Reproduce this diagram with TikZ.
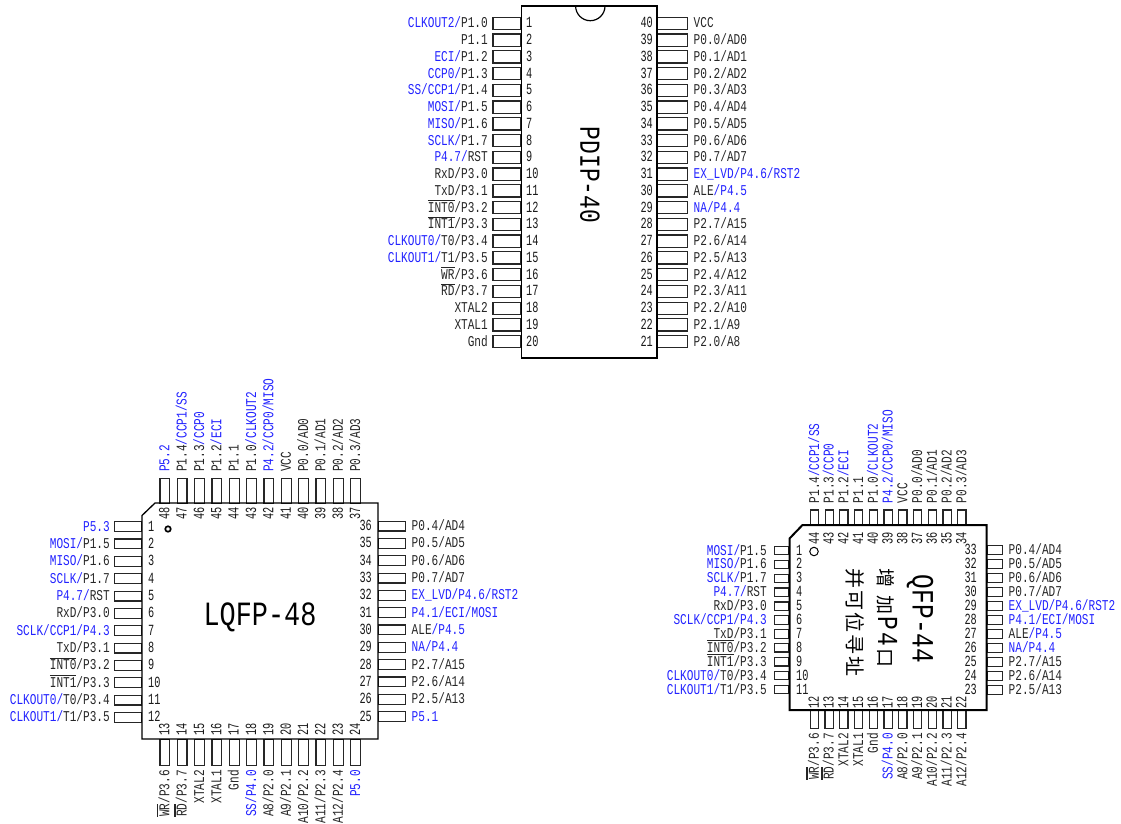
\documentclass[tikz,border=0pt]{standalone}
\usepackage{fontspec}
\setmainfont{Liberation Sans}
\newfontfamily\monoa[FakeStretch=0.79]{Liberation Mono}
\newfontfamily\monol[FakeStretch=0.74]{Liberation Mono}
\newfontfamily\monob[FakeStretch=0.66]{Liberation Mono}
\newfontfamily\cjk{Noto Sans CJK SC}
\definecolor{pinblue}{HTML}{2222FF}
\newcommand\bl[1]{\textcolor{pinblue}{#1}}
\newcommand\ovl[1]{\setbox0\hbox{#1}\rlap{\vrule width\wd0 height 12.4pt depth -11pt}\box0}
\tikzset{
  pinbox/.style={draw=black!85,line width=1.2pt,fill=white},
  chipbody/.style={draw=black,line width=1.2pt},
  lab/.style={inner sep=0pt,text height=10pt,text depth=1pt,text=black!85,font=\monol\fontsize{15}{15}\selectfont},
  num/.style={inner sep=0pt,text height=10pt,text depth=1pt,text=black!90,font=\monob\fontsize{15.5}{15.5}\selectfont},
  title/.style={inner sep=0pt,text=black},
}
% #1 chip, #2 body edge, #3 pin end, #4 half pin height, #5 y0, #6 step, #7 label x, #8 number x, #9 list
\newcommand\leftpins[9]{\foreach[count=\i from 0] \n/\t in {#9}{
  \pgfmathsetmacro\yy{#5+\i*#6}
  \node[pinbox,inner sep=0pt,minimum width=#2pt-#3pt,minimum height=2*#4pt,anchor=east] (#1pin\n) at (#2,\yy) {};
  \node[lab,anchor=east] (#1lab\n) at (#7,\yy) {\t};
  \node[num,anchor=west] (#1num\n) at (#8,\yy) {\n};
}}
\newcommand\rightpins[9]{\foreach[count=\i from 0] \n/\t in {#9}{
  \pgfmathsetmacro\yy{#5+\i*#6}
  \node[pinbox,inner sep=0pt,minimum width=#3pt-#2pt,minimum height=2*#4pt,anchor=west] (#1pin\n) at (#2,\yy) {};
  \node[lab,anchor=west] (#1lab\n) at (#7,\yy) {\t};
  \node[num,anchor=east] (#1num\n) at (#8,\yy) {\n};
}}
\newcommand\toppins[9]{\foreach[count=\i from 0] \n/\t in {#9}{
  \pgfmathsetmacro\xx{#5+\i*#6}
  \node[pinbox,inner sep=0pt,minimum height=#2pt-#3pt,minimum width=2*#4pt,anchor=north] (#1pin\n) at (\xx,#3) {};
  \node[lab,rotate=90,anchor=west] (#1lab\n) at (\xx,#7) {\t};
  \node[num,rotate=90,anchor=west] (#1num\n) at (\xx,#8) {\n};
}}
\newcommand\bottompins[9]{\foreach[count=\i from 0] \n/\t in {#9}{
  \pgfmathsetmacro\xx{#5+\i*#6}
  \node[pinbox,inner sep=0pt,minimum height=#3pt-#2pt,minimum width=2*#4pt,anchor=north] (#1pin\n) at (\xx,#2) {};
  \node[lab,rotate=90,anchor=east] (#1lab\n) at (\xx,#7) {\t};
  \node[num,rotate=90,anchor=east] (#1num\n) at (\xx,#8) {\n};
}}
\begin{document}
\begin{tikzpicture}[x=1pt,y=-1pt]
\useasboundingbox (0,0) rectangle (1121,823);
\clip (0,0) rectangle (1121,823);

% ---------- PDIP-40
\leftpins{d}{521.5}{493.5}{6.1}{23.3}{16.76}{488}{526}{
 1/{\bl{CLKOUT2/}P1.0},2/{P1.1},3/{\bl{ECI/}P1.2},4/{\bl{CCP0/}P1.3},5/{\bl{SS/CCP1/}P1.4},
 6/{\bl{MOSI/}P1.5},7/{\bl{MISO/}P1.6},8/{\bl{SCLK/}P1.7},9/{\bl{P4.7/}RST},10/{RxD/P3.0},
 11/{TxD/P3.1},12/{\ovl{INT0}/P3.2},13/{\ovl{INT1}/P3.3},14/{\bl{CLKOUT0/}T0/P3.4},15/{\bl{CLKOUT1/}T1/P3.5},
 16/{\ovl{WR}/P3.6},17/{\ovl{RD}/P3.7},18/{XTAL2},19/{XTAL1},20/{Gnd}}
\rightpins{d}{657}{687}{6.1}{23.3}{16.76}{693.5}{653}{
 40/{VCC},39/{P0.0/AD0},38/{P0.1/AD1},37/{P0.2/AD2},36/{P0.3/AD3},35/{P0.4/AD4},34/{P0.5/AD5},
 33/{P0.6/AD6},32/{P0.7/AD7},31/{\bl{EX\_LVD/P4.6/RST2}},30/{ALE\bl{/P4.5}},29/{\bl{NA/P4.4}},
 28/{P2.7/A15},27/{P2.6/A14},26/{P2.5/A13},25/{P2.4/A12},24/{P2.3/A11},23/{P2.2/A10},22/{P2.1/A9},21/{P2.0/A8}}
\draw[chipbody] (521.5,6) -- (657,6) -- (657,358) -- (521.5,358) -- cycle;
\draw[chipbody] (575.6,6) arc[start angle=180,end angle=0,radius=14.7];
\node[title,rotate=-90,font=\monoa\fontsize{29}{29}\selectfont] (dtitle) at (590,175) {PDIP-40};

% ---------- LQFP-48
\leftpins{l}{142}{115}{4.9}{526.6}{17.35}{110}{148}{
 1/{\bl{P5.3}},2/{\bl{MOSI/}P1.5},3/{\bl{MISO/}P1.6},4/{\bl{SCLK/}P1.7},5/{\bl{P4.7/}RST},6/{RxD/P3.0},
 7/{\bl{SCLK/CCP1/P4.3}},8/{TxD/P3.1},9/{\ovl{INT0}/P3.2},10/{\ovl{INT1}/P3.3},11/{\bl{CLKOUT0/}T0/P3.4},12/{\bl{CLKOUT1/}T1/P3.5}}
\rightpins{l}{378}{404.5}{4.9}{526}{17.33}{411.5}{372}{
 36/{P0.4/AD4},35/{P0.5/AD5},34/{P0.6/AD6},33/{P0.7/AD7},32/{\bl{EX\_LVD/P4.6/RST2}},31/{\bl{P4.1/ECI/MOSI}},
 30/{ALE\bl{/P4.5}},29/{\bl{NA/P4.4}},28/{P2.7/A15},27/{P2.6/A14},26/{P2.5/A13},25/{\bl{P5.1}}}
\toppins{l}{503}{477.5}{4.9}{164.8}{17.35}{472}{520}{
 48/{\bl{P5.2}},47/{P1.4\bl{/CCP1/SS}},46/{P1.3\bl{/CCP0}},45/{P1.2\bl{/ECI}},44/{P1.1},43/{P1.0\bl{/CLKOUT2}},
 42/{\bl{P4.2/CCP0/MISO}},41/{VCC},40/{P0.0/AD0},39/{P0.1/AD1},38/{P0.2/AD2},37/{P0.3/AD3}}
\bottompins{l}{739}{765}{4.9}{164.8}{17.35}{770}{723}{
 13/{\ovl{WR}/P3.6},14/{\ovl{RD}/P3.7},15/{XTAL2},16/{XTAL1},17/{Gnd},18/{\bl{SS/P4.0}},19/{A8/P2.0},
 20/{A9/P2.1},21/{A10/P2.2},22/{A11/P2.3},23/{A12/P2.4},24/{\bl{P5.0}}}
\draw[chipbody,line width=1.3pt] (142,515.5) -- (155,503) -- (378,503) -- (378,739) -- (142,739) -- cycle;
\node[circle,draw=black,line width=1.7pt,fill=white,minimum size=5.5pt,inner sep=0pt] (lmark) at (168,529) {};
\node[title,font=\monoa\fontsize{34}{34}\selectfont] (ltitle) at (260,617) {LQFP-48};

% ---------- QFP-44
\leftpins{q}{789.5}{775}{4.2}{550.5}{13.9}{767}{796}{
 1/{\bl{MOSI/}P1.5},2/{\bl{MISO/}P1.6},3/{\bl{SCLK/}P1.7},4/{\bl{P4.7/}RST},5/{RxD/P3.0},6/{\bl{SCLK/CCP1/P4.3}},
 7/{TxD/P3.1},8/{\ovl{INT0}/P3.2},9/{\ovl{INT1}/P3.3},10/{\bl{CLKOUT0/}T0/P3.4},11/{\bl{CLKOUT1/}T1/P3.5}}
\rightpins{q}{986.5}{1001.7}{4.2}{550}{14}{1008.5}{977}{
 33/{P0.4/AD4},32/{P0.5/AD5},31/{P0.6/AD6},30/{P0.7/AD7},29/{\bl{EX\_LVD/P4.6/RST2}},28/{\bl{P4.1/ECI/MOSI}},
 27/{ALE\bl{/P4.5}},26/{\bl{NA/P4.4}},25/{P2.7/A15},24/{P2.6/A14},23/{P2.5/A13}}
\toppins{q}{525}{509.3}{4.1}{814.5}{14.73}{503.5}{545}{
 44/{P1.4\bl{/CCP1/SS}},43/{P1.3\bl{/CCP0}},42/{P1.2\bl{/ECI}},41/{P1.1},40/{P1.0\bl{/CLKOUT2}},39/{\bl{P4.2/CCP0/MISO}},
 38/{VCC},37/{P0.0/AD0},36/{P0.1/AD1},35/{P0.2/AD2},34/{P0.3/AD3}}
\bottompins{q}{710}{727.7}{4.1}{814.3}{14.75}{733}{696.5}{
 12/{\ovl{WR}/P3.6},13/{\ovl{RD}/P3.7},14/{XTAL2},15/{XTAL1},16/{Gnd},17/{\bl{SS/P4.0}},18/{A8/P2.0},19/{A9/P2.1},
 20/{A10/P2.2},21/{A11/P2.3},22/{A12/P2.4}}
\draw[chipbody,line width=2pt] (789.5,538.5) -- (802.5,525) -- (986.5,525) -- (986.5,710) -- (789.5,710) -- cycle;
\node[circle,draw=black,line width=1pt,minimum size=8.5pt,inner sep=0pt] (qmark) at (814,551.5) {};
\node[title,rotate=-90,font=\monoa\fontsize{31}{31}\selectfont] (qtitle) at (920,619) {QFP-44};
\node[title,rotate=-90,font=\fontsize{19}{19}\selectfont] (qtext) at (887,618) {{\cjk 增\hspace{8pt}加}\hspace{2pt}{\monoa\fontsize{29}{29}\selectfont P\hspace{3pt}4\hspace{2pt}}{\cjk 口}};
\node[title,rotate=-90,font=\fontsize{20}{20}\selectfont] (qaddr) at (855,622) {{\cjk 并\hspace{2pt}可\hspace{2pt}位\hspace{2pt}寻\hspace{2pt}址}};
\end{tikzpicture}
\end{document}
